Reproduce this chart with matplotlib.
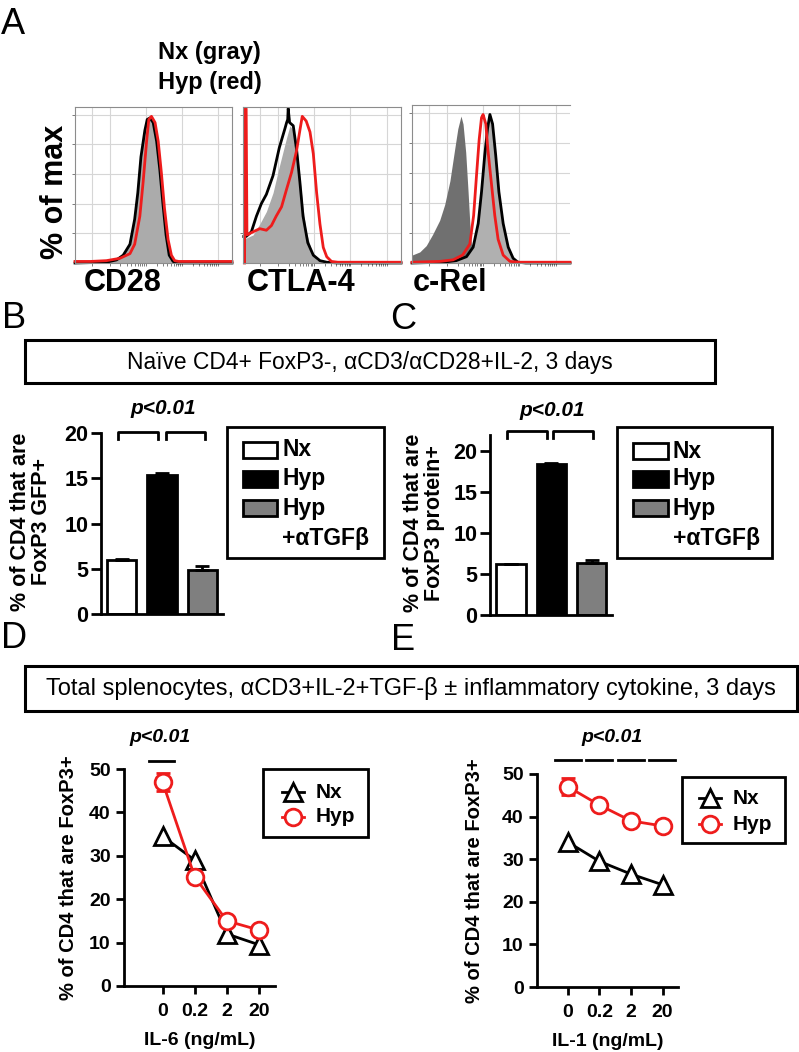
import numpy as np
import matplotlib.pyplot as plt
from matplotlib.patches import Rectangle
from matplotlib.lines import Line2D

plt.rcParams['font.family'] = ['Liberation Sans', 'DejaVu Sans']
plt.rcParams['font.weight'] = 'bold'
plt.rcParams['axes.labelweight'] = 'bold'

# ---------------- data ----------------
# A: flow histograms, x = channel position across the plot (0-100), y = height (0-100)
cd28_nx_x = [0, 20, 26.5, 30.7, 35, 38, 40, 42, 44.5, 46, 47.7, 49.8, 52, 54, 56, 58, 60, 62.5, 65, 100]
cd28_nx_y = [0, 0.5, 2, 5, 12, 28, 45, 68, 85, 92, 93, 90, 78, 60, 38, 18, 5, 1, 0, 0]
cd28_hyp_x = [0, 10, 20, 28.6, 35, 38, 41.3, 43.4, 45.6, 47, 48.7, 51, 53, 55, 57, 59.3, 61.4, 63.5, 66, 80, 100]
cd28_hyp_y = [1, 1, 1.5, 3, 6, 12, 30, 52, 78, 92, 94, 90, 78, 58, 35, 15, 5, 1.5, 1, 1, 1]

ctla_fill_x = [0.5, 2, 6.4, 10.6, 14.8, 19, 23, 27.5, 29.7, 31.8, 34, 36, 38, 40, 43.4, 46.6, 50.8, 55]
ctla_fill_y = [16, 16, 18, 25, 33, 45, 62, 80, 88, 85, 75, 55, 35, 20, 8, 2, 0.5, 0]
ctla_nx_x = [0.5, 2, 5.3, 8.5, 11.6, 14.8, 19, 23, 26.5, 27.6, 28.3, 28.6, 29.5, 31.8, 34, 36, 38, 41, 44.5, 48.7, 53, 60, 100]
ctla_nx_y = [17, 17, 20, 30, 38, 44, 56, 74, 86, 90, 92, 99, 90, 88, 72, 52, 30, 13, 5, 1.5, 0.5, 0, 0]
ctla_hyp_x = [1.0, 1.3, 2.0, 2.5, 6.4, 10.6, 14.8, 18, 21, 24.4, 27.5, 30.7, 33.9, 36, 37.5, 40, 42.4, 44.5, 46.6, 48.7, 50.8, 53, 56, 60, 100]
ctla_hyp_y = [0, 99, 99, 18, 20, 22, 21, 24, 30, 36, 47, 58, 72, 85, 94, 91, 84, 70, 45, 25, 10, 4, 1, 0.5, 0.5]

crel_iso_x = [0, 4.9, 9, 13, 17.5, 20.7, 24, 27, 29, 31, 32.3, 34, 35.5, 36.6, 37.6, 39.7, 43, 48]
crel_iso_y = [5, 7, 11, 18, 27, 37, 52, 72, 85, 93, 88, 70, 45, 25, 12, 4, 1, 0]
crel_nx_x = [0, 19.7, 28, 34.5, 38.7, 41.9, 44, 46, 47.8, 49.3, 51, 53, 55, 57.7, 60.9, 64, 67, 72, 100]
crel_nx_y = [0, 0.5, 1.5, 4, 10, 25, 45, 68, 85, 94, 88, 68, 45, 25, 10, 3, 0.5, 0, 0]
crel_hyp_x = [0, 17.5, 26, 32, 36.6, 39, 40.8, 42.5, 44, 45, 46.7, 48, 50.3, 52.4, 54.5, 57.7, 62, 68, 100]
crel_hyp_y = [0.5, 1, 2, 5, 12, 30, 55, 78, 92, 94, 88, 72, 50, 30, 15, 5, 1, 0.5, 0.5]

# B / C: % of CD4 that are FoxP3+
groups = ['Nx', 'Hyp', 'Hyp\n+αTGFβ']
bar_colors = ['white', 'black', '#7f7f7f']
b_vals = [6.0, 15.4, 4.9]
b_err = [0.05, 0.15, 0.4]
c_vals = [6.2, 18.5, 6.3]
c_err = [0.05, 0.1, 0.45]

# D / E: cytokine titration
doses = ['0', '0.2', '2', '20']
d_nx = [34.5, 29, 12, 9.5]
d_hyp = [47, 25.2, 15, 12.9]
d_hyp_err = [2.0, 0.6, 0.5, 0.5]
e_nx = [34, 29.5, 26.5, 24]
e_hyp = [47, 42.7, 39, 37.8]
e_hyp_err = [2.0, 0.6, 0.5, 0.5]

RED = '#ee1c1c'

# ---------------- figure ----------------
W, H = 799, 1052
fig = plt.figure(figsize=(W / 100, H / 100), dpi=100)


def px_rect(x0, y0, x1, y1):
    return [x0 / W, 1 - y1 / H, (x1 - x0) / W, (y1 - y0) / H]


def ftext(x, y, s, **kw):
    return fig.text(x / W, 1 - y / H, s, **kw)


def fbox(x0, y0, x1, y1, lw=2.2, **kw):
    r = Rectangle((x0 / W, 1 - y1 / H), (x1 - x0) / W, (y1 - y0) / H,
                  transform=fig.transFigure, fill=False, lw=lw, ec='black', **kw)
    fig.add_artist(r)
    return r


# ---- A: histograms ----
grid_x = [10.7, 22, 45, 68, 91]
grid_y = [19, 38, 57, 76, 95]
minor_x = [d + 23 * np.log10(k) for d in (22, 45, 68) for k in range(2, 10)]


def histo(rect, fills, lines, label, label_x, right_spine=True):
    ax = fig.add_axes(px_rect(*rect))
    ax.set_axisbelow(True)
    for x, y, c in fills:
        ax.fill_between(x, y, color=c, lw=0)
    for x, y, c in lines:
        ax.plot(x, y, color=c, lw=2, clip_on=False)
    ax.set_xlim(0, 100)
    ax.set_ylim(0, 100)
    ax.set_xticks(grid_x)
    ax.set_yticks(grid_y)
    ax.set_xticks(minor_x, minor=True)
    ax.grid(color='#d6d6d6', lw=0.8)
    ax.tick_params(which='both', length=2.5, width=0.6, color='#666666',
                   labelleft=False, labelbottom=False)
    for s in ax.spines.values():
        s.set_color('#8c8c8c')
        s.set_linewidth(0.8)
    ax.spines['right'].set_visible(right_spine)
    ftext(label_x, 283, label, fontsize=22, va='center', ha='left')
    return ax


histo((75, 107, 232, 263),
      [(cd28_nx_x, cd28_nx_y, '#ababab')],
      [(cd28_nx_x, cd28_nx_y, 'black'), (cd28_hyp_x, cd28_hyp_y, RED)],
      'CD28', 84)
histo((243, 107, 401, 263),
      [(ctla_fill_x, ctla_fill_y, '#ababab')],
      [(ctla_nx_x, ctla_nx_y, 'black'), (ctla_hyp_x, ctla_hyp_y, RED)],
      'CTLA-4', 247)
histo((412, 105, 570, 263),
      [(crel_iso_x, crel_iso_y, '#707070'), (crel_nx_x, crel_nx_y, '#b0b0b0')],
      [(crel_nx_x, crel_nx_y, 'black'), (crel_hyp_x, crel_hyp_y, RED)],
      'c-Rel', 413, right_spine=False)

ftext(55, 192, '% of max', fontsize=22, rotation=90, ha='center', va='center')
ftext(158, 52, 'Nx (gray)', fontsize=17, ha='left', va='center')
ftext(158, 82, 'Hyp (red)', fontsize=17, ha='left', va='center')

# panel letters
for let, lx, ly in [('A', 13, 24), ('B', 14, 318), ('C', 403, 320), ('D', 14, 638), ('E', 403, 640)]:
    ftext(lx, ly, let, fontsize=26, fontweight='normal', ha='center', va='center')

# ---- B / C header ----
fbox(25, 340, 715, 383)
ftext(370, 362, 'Naïve CD4+ FoxP3-, αCD3/αCD28+IL-2, 3 days', fontsize=16.4,
      fontweight='normal', ha='center', va='center')


def bar_panel(rect, vals, errs, ylim, xlim, brackets, brk_y, ylabel, ylab_x, p_xy):
    ax = fig.add_axes(px_rect(*rect))
    x = np.arange(len(vals))
    ax.bar(x, vals, width=0.72, color=bar_colors, edgecolor='black', lw=2, zorder=2)
    ax.errorbar(x, vals, yerr=[np.zeros(len(vals)), errs], fmt='none', ecolor='black',
                elinewidth=2, capsize=5, capthick=2, zorder=3)
    ax.set_xlim(*xlim)
    ax.set_ylim(*ylim)
    ax.set_yticks([0, 5, 10, 15, 20])
    ax.set_xticks([])
    for s in ('top', 'right'):
        ax.spines[s].set_visible(False)
    for s in ('left', 'bottom'):
        ax.spines[s].set_linewidth(2)
    ax.tick_params(axis='y', length=7, width=2, labelsize=15.5, pad=2)
    for a, b in brackets:
        ax.plot([a, a, b, b], [brk_y[0], brk_y[1], brk_y[1], brk_y[0]],
                color='black', lw=2, clip_on=False)
    ftext(ylab_x, (rect[1] + rect[3]) / 2 - 2, ylabel, fontsize=15.5, rotation=90,
          ha='center', va='center', multialignment='center', linespacing=1.0)
    ftext(p_xy[0], p_xy[1], 'p<0.01', fontsize=15, style='italic', ha='center', va='center')
    return ax


bar_panel((101, 433, 223, 614), b_vals, b_err, (0, 20), (-0.51, 2.51),
          [(-0.09, 0.89), (1.09, 2.06)], (19.35, 20.1),
          '% of CD4 that are\nFoxP3 GFP+', 31, (163, 408))
bar_panel((490, 435, 612, 615), c_vals, c_err, (0, 22), (-0.52, 2.5),
          [(-0.09, 0.9), (1.05, 2.04)], (21.6, 22.5),
          '% of CD4 that are\nFoxP3 protein+', 424, (552, 410))


def bar_legend(x0, y0, x1, y1, px0, px1, tx, rows_y):
    fbox(x0, y0, x1, y1, lw=2)
    for lab, col, yc in zip(groups, bar_colors, rows_y):
        fig.add_artist(Rectangle((px0 / W, 1 - (yc + 8) / H), (px1 - px0) / W, 16 / H,
                                 transform=fig.transFigure, fc=col, ec='black', lw=2))
        for k, line in enumerate(lab.split('\n')):
            ftext(tx, yc + 30 * k, line, fontsize=16.5, ha='left', va='center')


bar_legend(227, 427, 384, 558, 243, 277, 282, [450, 479, 508])
bar_legend(617, 427, 772, 558, 633, 668, 673, [451, 479, 508])

# ---- D / E header ----
fbox(25, 666, 797, 711)
ftext(411, 689, 'Total splenocytes, αCD3+IL-2+TGF-β ± inflammatory cytokine, 3 days',
      fontsize=17, fontweight='normal', ha='center', va='center')


def dose_panel(rect, nx, hyp, hyp_err, xlim, xlabel, ylab_x, p_xy, sig_spans, sig_y):
    ax = fig.add_axes(px_rect(*rect))
    x = np.arange(len(doses))
    ax.plot(x, nx, '-^', color='black', mfc='white', mec='black', ms=13, mew=2, lw=2,
            clip_on=False, zorder=3)
    ax.errorbar(x, hyp, yerr=hyp_err, fmt='-o', color=RED, mfc='white', mec=RED,
                ms=12, mew=2, lw=2, capsize=5, capthick=2, clip_on=False, zorder=4)
    ax.set_xlim(*xlim)
    ax.set_ylim(0, 50)
    ax.set_yticks([0, 10, 20, 30, 40, 50])
    ax.set_xticks(x)
    ax.set_xticklabels(doses)
    for s in ('top', 'right'):
        ax.spines[s].set_visible(False)
    for s in ('left', 'bottom'):
        ax.spines[s].set_linewidth(2)
    ax.tick_params(length=6, width=2, labelsize=14)
    ax.tick_params(axis='x', pad=6)
    ax.set_xlabel(xlabel, fontsize=14, fontweight='bold', labelpad=9)
    for a, b in sig_spans:
        ax.plot([a, b], [sig_y, sig_y], color='black', lw=2, clip_on=False)
    ftext(ylab_x, (rect[1] + rect[3]) / 2, '% of CD4 that are FoxP3+', fontsize=14.5,
          rotation=90, ha='center', va='center')
    ftext(p_xy[0], p_xy[1], 'p<0.01', fontsize=14, style='italic', ha='center', va='center')
    return ax


dose_panel((124, 769, 275, 986), d_nx, d_hyp, d_hyp_err, (-1.2, 3.5), 'IL-6 (ng/mL)',
           68, (160, 737), [(-0.42, 0.36)], 51.8)
dose_panel((537, 774, 678, 987), e_nx, e_hyp, e_hyp_err, (-0.98, 3.49), 'IL-1 (ng/mL)',
           475, (612, 737), [(i - 0.42, i + 0.4) for i in range(len(doses))], 53.3)


def line_legend(x0, y0, x1, y1, mx, tx, rows_y):
    fbox(x0, y0, x1, y1, lw=2)
    styles = [('^', 'black', 13), ('o', RED, 12)]
    for lab, (m, c, ms), yc in zip(['Nx', 'Hyp'], styles, rows_y):
        fig.add_artist(Line2D([(mx - 11) / W, (mx + 11) / W], [1 - yc / H, 1 - yc / H],
                              transform=fig.transFigure, color=c, lw=2))
        fig.add_artist(Line2D([mx / W], [1 - yc / H], transform=fig.transFigure,
                              marker=m, ms=ms, mfc='white', mec=c, mew=2))
        ftext(tx, yc, lab, fontsize=15, ha='left', va='center')


line_legend(263, 769, 368, 837, 293, 316, [792, 817])
line_legend(682, 777, 785, 843, 710, 733, [798, 824])

fig.savefig('out.png', dpi=100)
